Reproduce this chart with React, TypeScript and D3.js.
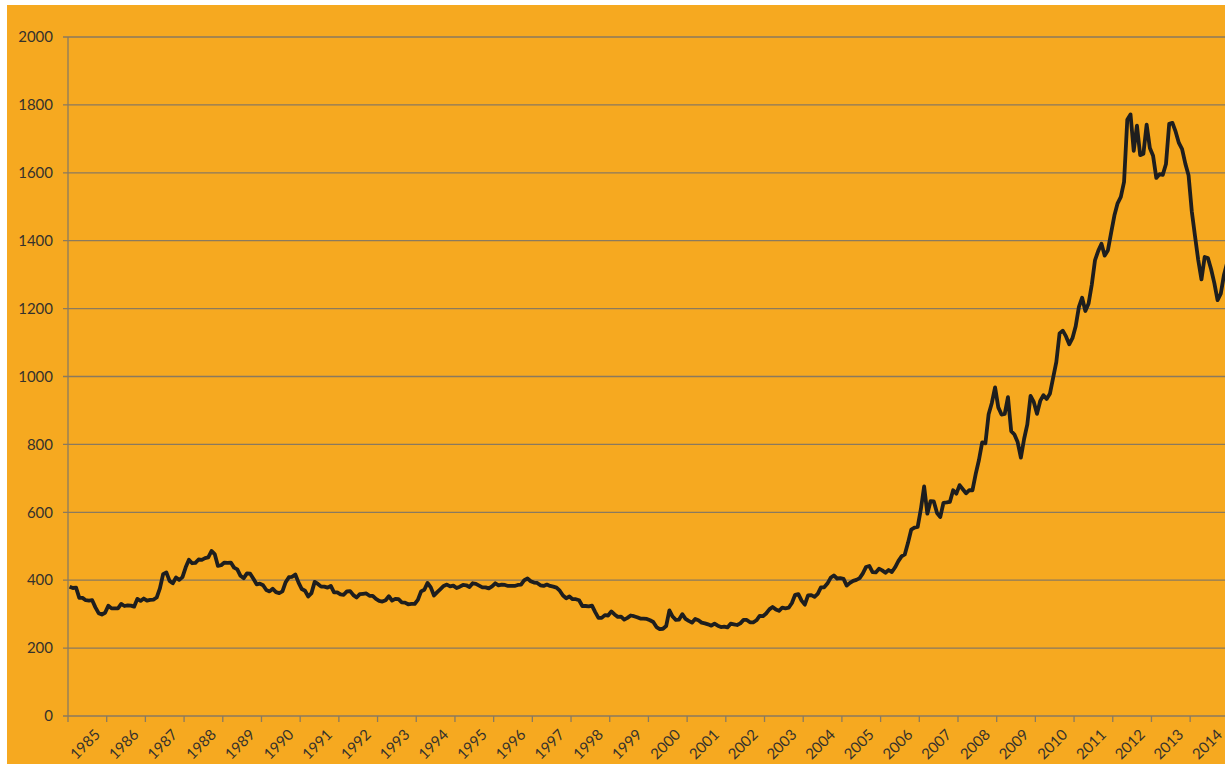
import React, { useEffect, useRef } from 'react'
import * as d3 from 'd3'

// monthly average gold price (USD/oz), first point Apr 1984
const firstMonth = '1984-04'
const prices = [
  381, 377, 378, 348, 348, 341, 340, 341, 320,
  303, 299, 304, 325, 317, 317, 317, 330, 324, 326, 325, 322,
  345, 339, 346, 340, 342, 343, 349, 376, 418, 423, 398, 391,
  408, 401, 409, 438, 460, 450, 451, 461, 460, 465, 467, 486,
  477, 442, 444, 452, 451, 452, 437, 432, 413, 406, 420, 419,
  404, 388, 390, 385, 371, 367, 375, 365, 362, 367, 394, 409,
  410, 417, 393, 374, 369, 352, 362, 395, 389, 381, 381, 378,
  383, 364, 364, 358, 357, 367, 368, 356, 349, 359, 360, 361,
  354, 354, 345, 339, 337, 341, 353, 340, 345, 344, 335, 334,
  329, 330, 330, 342, 367, 372, 392, 379, 355, 365, 374, 383,
  387, 382, 384, 377, 381, 386, 385, 380, 391, 389, 384, 379,
  379, 376, 382, 391, 385, 387, 386, 383, 383, 383, 386, 387,
  400, 405, 397, 393, 392, 385, 383, 387, 383, 381, 378, 369,
  355, 347, 352, 344, 344, 341, 324, 324, 323, 325, 306, 289,
  289, 297, 296, 308, 299, 292, 293, 284, 289, 296, 294, 291,
  287, 287, 286, 282, 277, 262, 256, 257, 265, 311, 293, 283,
  284, 300, 286, 280, 275, 286, 282, 275, 273, 270, 266, 272,
  266, 262, 263, 261, 272, 270, 268, 273, 283, 283, 276, 276,
  282, 295, 294, 302, 314, 321, 314, 310, 319, 317, 319, 333,
  357, 359, 340, 328, 355, 356, 351, 360, 379, 379, 390, 407,
  414, 405, 406, 404, 384, 392, 398, 401, 406, 420, 439, 442,
  424, 423, 434, 429, 422, 430, 424, 438, 456, 470, 476, 510,
  549, 555, 557, 610, 676, 596, 633, 632, 598, 586, 628, 629,
  631, 665, 655, 680, 668, 656, 665, 665, 713, 754, 806, 803,
  889, 922, 968, 909, 888, 890, 939, 839, 829, 807, 761, 816,
  859, 943, 925, 890, 928, 945, 934, 949, 996, 1043, 1127, 1135,
  1118, 1095, 1113, 1148, 1205, 1232, 1193, 1215, 1271, 1343, 1370, 1391,
  1356, 1372, 1424, 1474, 1510, 1529, 1573, 1756, 1772, 1665, 1739, 1652,
  1656, 1742, 1673, 1650, 1585, 1596, 1594, 1626, 1744, 1747, 1721, 1688,
  1670, 1627, 1593, 1487, 1414, 1343, 1286, 1352, 1349, 1316, 1275, 1225,
  1244, 1300, 1336,
]

const yearLabels = d3.range(1985, 2015).map(String)
const yTicks = d3.range(0, 2001, 200)

export default function App() {
  const ref = useRef<SVGSVGElement | null>(null)

  useEffect(() => {
    if (!ref.current) return
    const svg = d3.select(ref.current)
    svg.selectAll('*').remove()

    const width = 1225, height = 764
    const left = 68, bottom = 716, top = 37
    const monthW = 3.2246
    const right = left + yearLabels.length * 12 * monthW

    const x = d3.scaleLinear().domain([0, yearLabels.length * 12]).range([left, right])
    const y = d3.scaleLinear().domain([0, 2000]).range([bottom, top])

    svg.append('rect').attr('width', width).attr('height', height).attr('fill', '#fff')
    svg.append('rect').attr('x', 7).attr('y', 5).attr('width', width - 7).attr('height', height - 5).attr('fill', '#F6A920')

    const grid = '#8a7a5e'
    const font = 'Lato, "Open Sans", sans-serif'
    // gridlines + y labels
    const yg = svg.append('g')
    yg.selectAll('line').data(yTicks).enter().append('line')
      .attr('x1', left - 5).attr('x2', right)
      .attr('y1', d => y(d)).attr('y2', d => y(d))
      .attr('stroke', grid).attr('stroke-width', 1.3)
    yg.selectAll('text').data(yTicks).enter().append('text')
      .attr('x', 53).attr('y', d => y(d)).attr('dy', '0.35em')
      .attr('text-anchor', 'end')
      .attr('font-family', font).attr('font-size', 15)
      .attr('fill', '#35322c')
      .text(d => String(d))

    svg.append('line').attr('x1', left).attr('x2', left).attr('y1', top).attr('y2', bottom)
      .attr('stroke', grid).attr('stroke-width', 1.3)

    // x ticks + year labels
    const xg = svg.append('g')
    xg.selectAll('line').data(d3.range(0, yearLabels.length + 1)).enter().append('line')
      .attr('x1', d => x(d * 12)).attr('x2', d => x(d * 12))
      .attr('y1', bottom).attr('y2', bottom + 6)
      .attr('stroke', grid).attr('stroke-width', 1.3)
    xg.selectAll('text').data(yearLabels).enter().append('text')
      .attr('transform', (d, i) => `translate(${x(i * 12 + 6) + 10},${bottom + 16}) rotate(-45)`)
      .attr('text-anchor', 'end').attr('dy', '0.35em')
      .attr('font-family', font).attr('font-size', 15)
      .attr('fill', '#35322c')
      .text(d => d)

    const line = d3.line<number>()
      .x((d, i) => x(i + 0.5))
      .y(d => y(d))
    svg.append('path').datum(prices)
      .attr('d', line)
      .attr('fill', 'none')
      .attr('stroke', '#1e1e1e')
      .attr('stroke-width', 3.8)
      .attr('stroke-linejoin', 'round')
      .attr('data-start', firstMonth)
  }, [])

  return <svg ref={ref} width={1225} height={764} style={{ position: 'absolute', left: 0, top: 0, display: 'block' }} />
}
